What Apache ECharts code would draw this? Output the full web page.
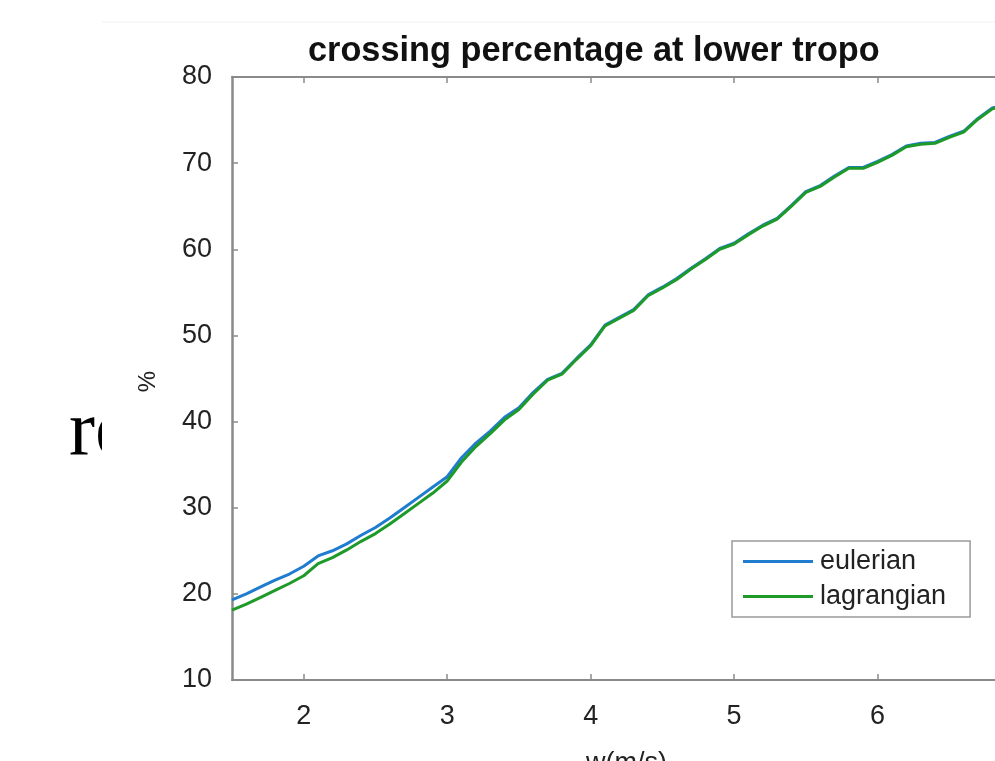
<!DOCTYPE html>
<html>
<head>
<meta charset="utf-8">
<script src="https://cdn.jsdelivr.net/npm/echarts@6/dist/echarts.min.js"></script>
<style>html,body{margin:0;padding:0;background:#fff;}#c{width:995px;height:761px;}</style>
</head>
<body>
<div id="c"></div>
<script>
var wValues = [1.5,1.6,1.7,1.8,1.9,2.0,2.1,2.2,2.3,2.4,2.5,2.6,2.7,2.8,2.9,3.0,3.1,3.2,3.3,3.4,3.5,3.6,3.7,3.8,3.9,4.0,4.1,4.2,4.3,4.4,4.5,4.6,4.7,4.8,4.9,5.0,5.1,5.2,5.3,5.4,5.5,5.6,5.7,5.8,5.9,6.0,6.1,6.2,6.3,6.4,6.5,6.6,6.7,6.8,6.9];
var eulerian = [19.3,20.0,20.8,21.6,22.3,23.2,24.4,25.0,25.8,26.8,27.7,28.8,30.0,31.2,32.4,33.6,35.8,37.5,38.9,40.5,41.6,43.4,44.9,45.6,47.3,48.9,51.2,52.1,53.0,54.7,55.6,56.6,57.8,58.9,60.1,60.7,61.8,62.8,63.6,65.1,66.7,67.4,68.5,69.5,69.5,70.2,71.0,72.0,72.3,72.4,73.1,73.7,75.2,76.4,76.9];
var lagrangian = [18.1,18.8,19.6,20.4,21.2,22.1,23.5,24.2,25.1,26.1,27.0,28.1,29.3,30.5,31.7,33.1,35.3,37.1,38.6,40.2,41.4,43.2,44.8,45.5,47.2,48.8,51.1,52.0,52.9,54.6,55.5,56.5,57.7,58.8,60.0,60.6,61.7,62.7,63.5,65.0,66.6,67.3,68.4,69.4,69.4,70.1,70.9,71.9,72.2,72.3,73.0,73.6,75.1,76.3,76.8];
var xTicks = [2,3,4,5,6,7];
var yTicks = [10,20,30,40,50,60,70,80];

function pairs(xs, ys){ return xs.map(function(x,i){ return [x, ys[i]]; }); }

var font = "'Liberation Sans', Arial, Helvetica, sans-serif";
var axisGray = '#8a8a8a';
var textCol = '#222';

var chart = echarts.init(document.getElementById('c'), null, {renderer:'canvas'});
chart.setOption({
  animation: false,
  backgroundColor: '#fff',
  title: {
    text: 'crossing percentage at lower tropo',
    left: 308, top: 35,
    padding: 0,
    textStyle: {fontFamily: font, fontSize: 34.3, fontWeight: 'bold', color: '#111'}
  },
  graphic: [
    {type:'text', z:-10, x:69, y:434, style:{text:'re', font:"78px 'Liberation Serif', 'Times New Roman', serif", fill:'#000', verticalAlign:'middle', align:'left'}},
    {type:'rect', z:-5, shape:{x:102, y:22, width:900, height:760}, style:{fill:'#fff'}},
    {type:'line', z:-4, shape:{x1:102, y1:22, x2:995, y2:22}, style:{stroke:'#f2f2f2', lineWidth:1}}
  ],
  legend: {
    orient: 'vertical',
    left: 732, top: 541,
    padding: [7, 24, 7, 11],
    itemGap: 8,
    itemWidth: 70,
    itemHeight: 3,
    icon: 'rect',
    backgroundColor: '#fff',
    borderColor: '#9a9a9a',
    borderWidth: 1.5,
    borderRadius: 0,
    textStyle: {fontFamily: font, fontSize: 27, color: textCol, padding:[0,0,0,2]},
    data: ['eulerian','lagrangian']
  },
  grid: {left: 232, top: 77, width: 789, height: 603, show: false, containLabel: false, outerBoundsMode: 'none'},
  xAxis: [{
    type: 'value', min: 1.5, max: 7, position: 'bottom',
    name: 'w(m/s)', nameLocation: 'middle', nameGap: 70,
    nameTextStyle: {fontFamily: font, fontSize: 27, color: textCol},
    axisLine: {show:true, onZero:false, lineStyle:{color:axisGray, width:2}},
    axisTick: {show:true, inside:true, length:6, customValues: xTicks, lineStyle:{color:axisGray, width:1.5}},
    axisLabel: {show:true, customValues: xTicks, margin: 23, fontFamily: font, fontSize: 27, color: textCol},
    splitLine: {show:false}
  },{
    type: 'value', min: 1.5, max: 7, position: 'top',
    axisLine: {show:true, onZero:false, lineStyle:{color:axisGray, width:2}},
    axisTick: {show:true, inside:true, length:6, customValues: xTicks, lineStyle:{color:axisGray, width:1.5}},
    axisLabel: {show:false},
    splitLine: {show:false}
  }],
  yAxis: [{
    type: 'value', min: 10, max: 80, interval: 10, position: 'left',
    name: '%', nameLocation: 'middle', nameGap: 72, nameRotate: 90,
    nameTextStyle: {fontFamily: font, fontSize: 24, color: textCol, padding:[0,6,0,0]},
    axisLine: {show:true, onZero:false, lineStyle:{color:axisGray, width:2.5}},
    axisTick: {show:true, inside:true, length:6, lineStyle:{color:axisGray, width:1.5}},
    axisLabel: {show:true, margin: 20, fontFamily: font, fontSize: 27, color: textCol, customValues: yTicks, padding:[5,0,0,0]},
    splitLine: {show:false}
  }],
  series: [{
    name: 'eulerian', type: 'line', xAxisIndex: 0, data: pairs(wValues, eulerian),
    showSymbol: false, symbol: 'none', color: '#1f7ccf', lineStyle: {width: 3, color: '#1f7ccf'}, z: 2, clip: true
  },{
    name: 'lagrangian', type: 'line', xAxisIndex: 0, data: pairs(wValues, lagrangian),
    showSymbol: false, symbol: 'none', color: '#1e9a28', lineStyle: {width: 3, color: '#1e9a28'}, z: 3, clip: true
  }]
});
</script>
</body>
</html>
